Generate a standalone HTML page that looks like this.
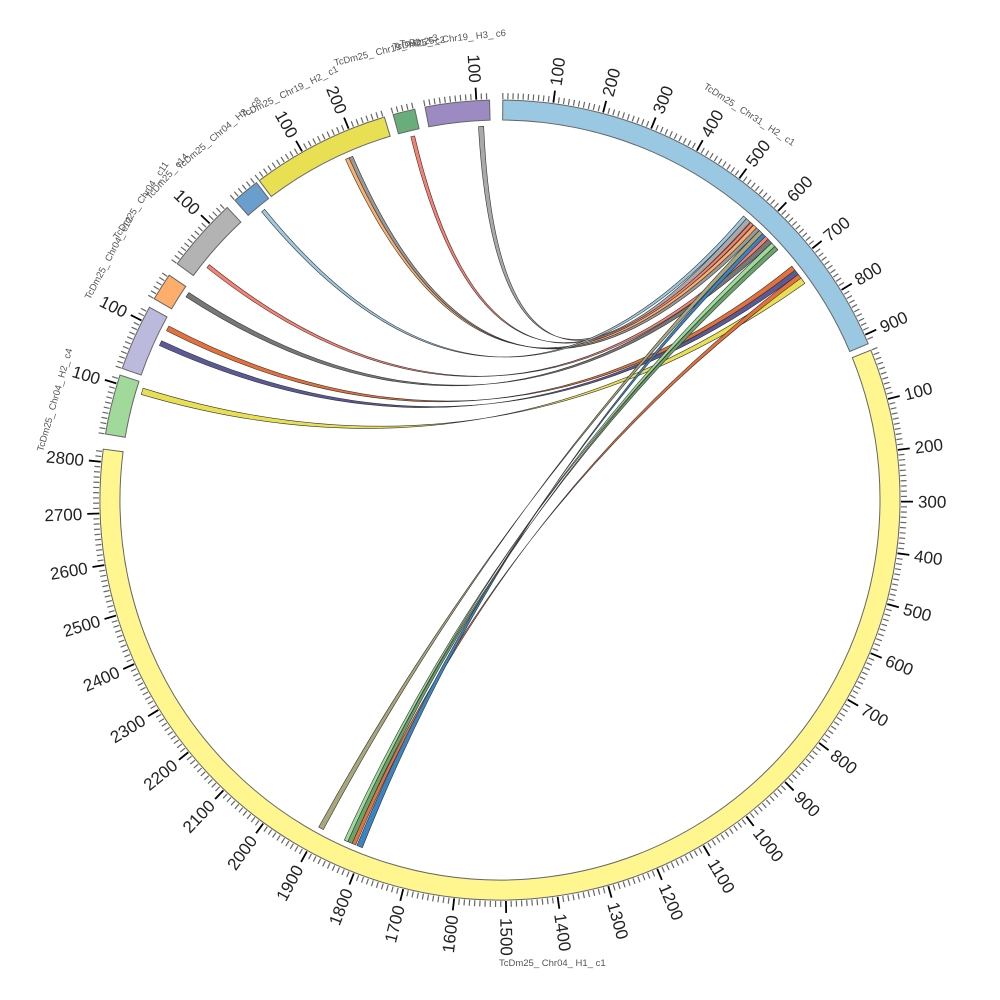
<!DOCTYPE html>
<html><head><meta charset="utf-8"><style>
body{margin:0;background:#fff}
svg{display:block}
.t{font-family:"Liberation Sans","DejaVu Sans",sans-serif;font-size:17px;fill:#222}
.n{font-family:"Liberation Sans","DejaVu Sans",sans-serif;font-size:9.5px;fill:#555}
</style></head><body>
<svg id="s" width="1000" height="1000" viewBox="0 0 1000 1000" xmlns="http://www.w3.org/2000/svg">
<g id="links"></g><g id="segs"></g><g id="ticks" stroke="#666" stroke-width="1.2"></g>
<g class="t">
<text transform="rotate(7.65,500,500) translate(500,82) rotate(-90)" dy=".35em">100</text>
<text transform="rotate(14.9,500,500) translate(500,82) rotate(-90)" dy=".35em">200</text>
<text transform="rotate(22.15,500,500) translate(500,82) rotate(-90)" dy=".35em">300</text>
<text transform="rotate(29.4,500,500) translate(500,82) rotate(-90)" dy=".35em">400</text>
<text transform="rotate(36.65,500,500) translate(500,82) rotate(-90)" dy=".35em">500</text>
<text transform="rotate(43.9,500,500) translate(500,82) rotate(-90)" dy=".35em">600</text>
<text transform="rotate(51.15,500,500) translate(500,82) rotate(-90)" dy=".35em">700</text>
<text transform="rotate(58.4,500,500) translate(500,82) rotate(-90)" dy=".35em">800</text>
<text transform="rotate(65.65,500,500) translate(500,82) rotate(-90)" dy=".35em">900</text>
<text transform="rotate(75.41,500,500) translate(500,82) rotate(-90)" dy=".35em">100</text>
<text transform="rotate(82.82,500,500) translate(500,82) rotate(-90)" dy=".35em">200</text>
<text transform="rotate(90.23,500,500) translate(500,82) rotate(-90)" dy=".35em">300</text>
<text transform="rotate(97.64,500,500) translate(500,82) rotate(-90)" dy=".35em">400</text>
<text transform="rotate(105.05,500,500) translate(500,82) rotate(-90)" dy=".35em">500</text>
<text transform="rotate(112.46,500,500) translate(500,82) rotate(-90)" dy=".35em">600</text>
<text transform="rotate(119.87,500,500) translate(500,82) rotate(-90)" dy=".35em">700</text>
<text transform="rotate(127.28,500,500) translate(500,82) rotate(-90)" dy=".35em">800</text>
<text transform="rotate(134.69,500,500) translate(500,82) rotate(-90)" dy=".35em">900</text>
<text transform="rotate(142.1,500,500) translate(500,82) rotate(-90)" dy=".35em">1000</text>
<text transform="rotate(149.51,500,500) translate(500,82) rotate(-90)" dy=".35em">1100</text>
<text transform="rotate(156.92,500,500) translate(500,82) rotate(-90)" dy=".35em">1200</text>
<text transform="rotate(164.33,500,500) translate(500,82) rotate(-90)" dy=".35em">1300</text>
<text transform="rotate(171.74,500,500) translate(500,82) rotate(-90)" dy=".35em">1400</text>
<text transform="rotate(179.15,500,500) translate(500,82) rotate(-90)" dy=".35em">1500</text>
<text text-anchor="end" transform="rotate(186.56,500,500) translate(500,82) rotate(90)" dy=".35em">1600</text>
<text text-anchor="end" transform="rotate(193.97,500,500) translate(500,82) rotate(90)" dy=".35em">1700</text>
<text text-anchor="end" transform="rotate(201.38,500,500) translate(500,82) rotate(90)" dy=".35em">1800</text>
<text text-anchor="end" transform="rotate(208.79,500,500) translate(500,82) rotate(90)" dy=".35em">1900</text>
<text text-anchor="end" transform="rotate(216.2,500,500) translate(500,82) rotate(90)" dy=".35em">2000</text>
<text text-anchor="end" transform="rotate(223.61,500,500) translate(500,82) rotate(90)" dy=".35em">2100</text>
<text text-anchor="end" transform="rotate(231.02,500,500) translate(500,82) rotate(90)" dy=".35em">2200</text>
<text text-anchor="end" transform="rotate(238.43,500,500) translate(500,82) rotate(90)" dy=".35em">2300</text>
<text text-anchor="end" transform="rotate(245.84,500,500) translate(500,82) rotate(90)" dy=".35em">2400</text>
<text text-anchor="end" transform="rotate(253.25,500,500) translate(500,82) rotate(90)" dy=".35em">2500</text>
<text text-anchor="end" transform="rotate(260.66,500,500) translate(500,82) rotate(90)" dy=".35em">2600</text>
<text text-anchor="end" transform="rotate(268.07,500,500) translate(500,82) rotate(90)" dy=".35em">2700</text>
<text text-anchor="end" transform="rotate(275.48,500,500) translate(500,82) rotate(90)" dy=".35em">2800</text>
<text text-anchor="end" transform="rotate(-3.4,500,500) translate(500,82) rotate(90)" dy=".35em">100</text>
<text text-anchor="end" transform="rotate(-29.6,500,500) translate(500,82) rotate(90)" dy=".35em">100</text>
<text text-anchor="end" transform="rotate(-22.2,500,500) translate(500,82) rotate(90)" dy=".35em">200</text>
<text text-anchor="end" transform="rotate(-46.4,500,500) translate(500,82) rotate(90)" dy=".35em">100</text>
<text text-anchor="end" transform="rotate(-63.4,500,500) translate(500,82) rotate(90)" dy=".35em">100</text>
<text text-anchor="end" transform="rotate(-73.2,500,500) translate(500,82) rotate(90)" dy=".35em">100</text>
</g>
<g class="n">
<text transform="translate(703,88) rotate(33)">TcDm25_ Chr31_ H2_ c1</text>
<text x="499" y="966">TcDm25_ Chr04_ H1_ c1</text>
<text transform="translate(400,47) rotate(-6)">TcDm25_ Chr19_ H3_ c6</text>
<text transform="translate(393,50) rotate(-8)">TcDm25_ c2</text>
<text transform="translate(335,66) rotate(-14)">TcDm25_ Chr19_ H2_ c3</text>
<text transform="translate(243,118) rotate(-26)">TcDm25_ Chr19_ H2_ c1</text>
<text transform="translate(180,170) rotate(-40)">TcDm25_ Chr04_ H3_ c8</text>
<text transform="translate(150,200) rotate(-48)">TcDm25_ c14</text>
<text transform="translate(118,240) rotate(-56)">TcDm25_ Chr04_ c11</text>
<text transform="translate(90,300) rotate(-62)">TcDm25_ Chr04_ c12</text>
<text transform="translate(43,452) rotate(-74)">TcDm25_ Chr04_ H2_ c4</text>
</g>
</svg>
<script>
var C=500,NS="http://www.w3.org/2000/svg";
function p(a,r){var t=a*Math.PI/180;return [(C+r*Math.sin(t)).toFixed(2),(C-r*Math.cos(t)).toFixed(2)];}
function el(tag,at,parent){var e=document.createElementNS(NS,tag);for(var k in at)e.setAttribute(k,at[k]);parent.appendChild(e);return e;}
var segs=[[0.4,67,"#9ac7e2",0.0725],[68,277.3,"#fff68f",0.0741],[-80.5,-71.8,"#a1d99b",0.0741],[-70.8,-61.2,"#bcbadc",0.0741],
[-59.8,-55.8,"#fdae6b",0.0741],[-53.8,-43,"#b3b3b3",0.0741],[-41.5,-37.5,"#6a9ecc",0.0741],[-37,-16.8,"#e8e052",0.0741],
[-15.5,-12.3,"#69ae7a",0.0741],[-10.8,-1.5,"#9c8ac2",0.0741]];
var R1=380,R2=400,G=document.getElementById("segs"),T=document.getElementById("ticks");
segs.forEach(function(s){
 var a=p(s[0],R2),b=p(s[1],R2),c=p(s[1],R1),d=p(s[0],R1),lg=(s[1]-s[0])>180?1:0;
 el("path",{d:"M"+a+"A"+R2+" "+R2+" 0 "+lg+" 1 "+b+"L"+c+"A"+R1+" "+R1+" 0 "+lg+" 0 "+d+"Z",fill:s[2],stroke:"#666","stroke-width":1},G);
 for(var u=0;;u+=10){var ang=s[0]+u*s[3];if(ang>s[1])break;
  var big=(u%100==0&&u>0),q1=p(ang,R2+1),q2=p(ang,R2+(big?13:7));
  var l=el("line",{x1:q1[0],y1:q1[1],x2:q2[0],y2:q2[1]},T);if(big){l.setAttribute("stroke","#000");l.setAttribute("stroke-width","1.8");}}
});
var L=document.getElementById("links"),r=374;
var links=[[-3.3,-2.5,41.2,42,"#a9a9a9"],[-13.8,-13.2,42.1,42.6,"#fb8072"],[-24.4,-23.8,42.7,43.3,"#fdae6b"],[-23.8,-23.2,43.3,43.9,"#999"],
[-39.6,-39,40.6,41.2,"#9ecae1"],[-51.6,-51,45.2,45.8,"#fb8072"],[-57.1,-56.3,45.8,46.6,"#777"],[-63.1,-62.3,51.3,52.1,"#e6703a"],
[-65.6,-64.8,52.1,52.9,"#5a5a99"],[-73.6,-72.6,53.6,54.6,"#e8e052"],
[208.2,209,43.9,44.6,"#a8a87c"],[204,204.6,46.6,47.3,"#a1d99b"],[202.7,203.3,52.9,53.6,"#e6703a"],[201.6,202.5,44.6,45.2,"#3a84c4"],[203.3,204,47.3,48,"#6ba46b"]];
links.forEach(function(k){
 var a=p(k[0],r),b=p(k[1],r),c=p(k[2],r),d=p(k[3],r);
 el("path",{d:"M"+a+"A"+r+" "+r+" 0 0 1 "+b+"Q500 500 "+d+"A"+r+" "+r+" 0 0 0 "+c+"Q500 500 "+a+"Z",fill:k[4],stroke:"#333","stroke-width":0.6},L);
});
</script>
</body></html>
